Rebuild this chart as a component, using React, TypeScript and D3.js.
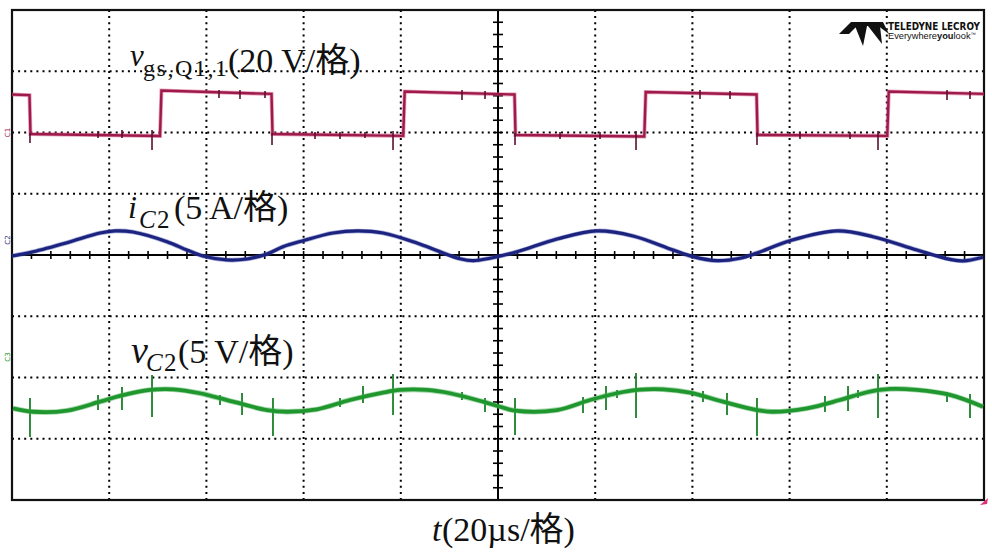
import React from 'react';
import * as d3 from 'd3';

const W = 992;
const H = 556;

// ---- time base: 20 µs / div, 10 divisions ----
const timeDomain: [number, number] = [0, 200];

// ---- channel settings (units per division, zero level in divisions) ----
const vgsPerDiv = 20; // V/div
const vgsOffsetDiv = 2.0;
const icPerDiv = 5; // A/div
const icOffsetDiv = 0.245;
const vcPerDiv = 5; // V/div
const vcOffsetDiv = -1.665;

// ---- vgs,Q1,1 (V) ----
const vgsT = [0, 3.6, 3.8, 30.45, 30.75, 53.4, 53.6, 80.5, 80.8, 103.4, 103.6, 130.1, 130.4, 153.2, 153.4, 180.1, 180.4, 200];
const vgsV = [12.4, 12.2, -0.5, -1.14, 13.7, 12.6, -0.5, -1.1, 13.4, 12.4, -0.8, -1.3, 13.2, 12.4, -0.8, -1.1, 13.4, 12.6];
const vgsGlitchT = [3.7, 17.7, 22.63, 28.81, 42.59, 46.91, 52.06, 53.5, 62.35, 67.49, 72.63, 78.4, 92.59, 97.33, 103.5, 112.76, 120.99, 128.4, 141.56, 147.74, 153.29, 162.14, 172.43, 178.19, 192.39, 197.12];
const vgsGlitchHi = [-0.16, 0.49, 0.82, 0.82, 13.88, 13.88, 13.55, -0.16, 0.16, 0.16, 0.16, 0.49, 13.88, 13.55, -0.16, 0.16, 0.16, 0.49, 13.88, 13.55, -0.16, 0.16, 0.16, 0.49, 13.88, 13.55];
const vgsGlitchLo = [-3.43, -1.8, -1.8, -5.71, 11.26, 10.94, 11.26, -4.08, -2.12, -2.12, -1.8, -5.71, 10.61, 10.94, -4.08, -2.12, -2.12, -5.71, 10.94, 10.94, -4.08, -2.12, -2.12, -5.71, 10.61, 10.94];

// ---- iC2 (A) ----
const icT = [0, 4.32, 11.32, 18.11, 21.19, 24.9, 31.89, 36.01, 39.3, 44.24, 48.35, 52.47, 55.76, 59.88, 66.05, 71.19, 76.34, 83.33, 88.07, 92.18, 94.86, 98.35, 103.91, 112.14, 120.37, 127.78, 136.01, 140.12, 145.06, 149.79, 153.29, 160.08, 169.75, 177.16, 186.21, 193.0, 195.68, 199.79];
const icA = [-1.31, -0.96, -0.22, 0.57, 0.74, 0.65, -0.14, -0.82, -1.31, -1.63, -1.55, -1.14, -0.55, -0.06, 0.57, 0.74, 0.57, -0.25, -0.96, -1.53, -1.69, -1.49, -0.96, 0.08, 0.74, 0.33, -0.82, -1.36, -1.69, -1.49, -1.06, -0.06, 0.74, 0.27, -0.82, -1.58, -1.71, -1.41];

// ---- vC2 (V) ----
const vcT = [0.21, 4.32, 11.32, 18.11, 22.22, 28.4, 33.13, 38.68, 45.47, 52.47, 56.58, 62.76, 69.55, 76.34, 79.84, 85.39, 90.12, 96.91, 100.41, 103.5, 112.14, 118.93, 124.49, 128.6, 133.95, 139.51, 146.3, 153.29, 156.58, 163.58, 170.37, 175.93, 180.66, 186.21, 193.0, 199.79];
const vcV = [-4.19, -4.47, -4.38, -3.65, -3.18, -2.69, -2.64, -2.96, -3.65, -4.33, -4.47, -4.27, -3.51, -2.91, -2.69, -2.69, -2.96, -3.65, -4.06, -4.38, -4.33, -3.51, -2.96, -2.69, -2.64, -2.91, -3.65, -4.33, -4.47, -4.19, -3.51, -2.88, -2.61, -2.69, -3.1, -4.06];
const vcGlitchT = [3.7, 17.7, 22.63, 28.81, 42.8, 47.33, 53.7, 67.49, 72.22, 78.4, 92.59, 97.33, 103.5, 117.49, 122.22, 124.49, 128.4, 142.18, 147.12, 153.29, 167.28, 172.02, 174.07, 178.19, 192.39, 197.12];
const vcGlitchHi = [-3.35, -3.1, -2.45, -1.47, -3.1, -2.94, -3.35, -3.35, -2.37, -1.39, -2.86, -3.35, -3.35, -3.27, -2.37, -2.69, -1.31, -2.78, -2.94, -3.35, -3.18, -2.37, -2.69, -1.39, -2.86, -3.02];
const vcGlitchLo = [-6.53, -4.33, -4.33, -4.9, -3.92, -4.73, -6.45, -4.08, -3.76, -4.73, -3.51, -4.49, -6.37, -4.57, -4.33, -3.35, -4.98, -3.67, -4.73, -6.45, -4.49, -4.41, -3.35, -4.98, -3.67, -4.98];

// ---- labels ----
const vgsLabel = { sym: 'v', sub: 'gs,Q1,1', unit: '(20 V/格)' };
const icLabel = { sym: 'i', sub: 'C', sub2: '2', unit: '(5 A/格)' };
const vcLabel = { sym: 'v', sub: 'C', sub2: '2', unit: '(5 V/格)' };
const timeLabel = { sym: 't', unit: '(20µs/格)' };

const X0 = 12, X1 = 984, Y0 = 10, Y1 = 500;
const serif = '"Liberation Serif", "Noto Sans CJK SC", serif';

export default function App() {
  const x = d3.scaleLinear().domain(timeDomain).range([X0, X1]);
  const y = d3.scaleLinear().domain([-4, 4]).range([Y1, Y0]);

  const mk = (T: number[], V: number[], per: number, off: number, curve: any) =>
    d3.line<number>()
      .x((_, i) => x(T[i]))
      .y((v) => y(off + v / per))
      .curve(curve)(V) || '';

  const vgsPath = mk(vgsT, vgsV, vgsPerDiv, vgsOffsetDiv, d3.curveLinear);
  const icPath = mk(icT, icA, icPerDiv, icOffsetDiv, d3.curveCatmullRom);
  const vcPath = mk(vcT, vcV, vcPerDiv, vcOffsetDiv, d3.curveCatmullRom);

  const xMajor = d3.range(1, 10).map((i) => timeDomain[0] + (i * (timeDomain[1] - timeDomain[0])) / 10);
  const yMajor = d3.range(-3, 4);
  const xMinor = d3.range(1, 50).map((i) => (i * 200) / 50);
  const yMinor = d3.range(-39, 40).map((i) => i / 5).filter((v) => Math.abs(v) < 4);

  const red = '#9e1a4c';
  const blue = '#1c237f';
  const green = '#1f962e';

  return (
    <svg width={W} height={H} style={{ position: 'absolute', left: 0, top: 0, background: '#fff' }}>
      <rect x={0} y={0} width={W} height={H} fill="#fff" />
      {/* dotted grid */}
      {xMajor.filter((t) => t !== 100).map((t) => (
        <line key={'gx' + t} x1={x(t)} x2={x(t)} y1={Y0} y2={Y1} stroke="#000" strokeWidth={2} strokeDasharray="2 4.1" />
      ))}
      {yMajor.filter((v) => v !== 0).map((v) => (
        <line key={'gy' + v} x1={X0} x2={X1} y1={y(v)} y2={y(v)} stroke="#000" strokeWidth={2} strokeDasharray="2 4.1" />
      ))}
      {/* center axes with ticks */}
      <line x1={X0} x2={X1} y1={y(0)} y2={y(0)} stroke="#000" strokeWidth={2} />
      <line x1={x(100)} x2={x(100)} y1={Y0} y2={Y1} stroke="#000" strokeWidth={2} />
      {xMinor.map((t) => (
        <line key={'tx' + t} x1={x(t)} x2={x(t)} y1={y(0) - 4} y2={y(0) + 4} stroke="#000" strokeWidth={1.6} />
      ))}
      {yMinor.map((v) => (
        <line key={'ty' + v} x1={x(100) - 5} x2={x(100) + 5} y1={y(v)} y2={y(v)} stroke="#000" strokeWidth={1.6} />
      ))}
      {/* border */}
      <rect x={X0} y={Y0} width={X1 - X0} height={Y1 - Y0} fill="none" stroke="#111" strokeWidth={2.2} />

      {/* vgs trace */}
      <path d={vgsPath} fill="none" stroke="#d4557f" strokeWidth={4} strokeOpacity={0.55} />
      <path d={vgsPath} fill="none" stroke={red} strokeWidth={2.4} />
      {vgsGlitchT.map((t, i) => (
        <line key={'vg' + i} x1={x(t)} x2={x(t)} y1={y(vgsOffsetDiv + vgsGlitchHi[i] / vgsPerDiv)} y2={y(vgsOffsetDiv + vgsGlitchLo[i] / vgsPerDiv)} stroke="#5a1030" strokeWidth={1.6} />
      ))}

      {/* iC2 trace */}
      <path d={icPath} fill="none" stroke="#4a55b0" strokeWidth={4.6} strokeOpacity={0.5} />
      <path d={icPath} fill="none" stroke={blue} strokeWidth={3.2} />

      {/* vC2 trace */}
      {vcGlitchT.map((t, i) => (
        <line key={'cg' + i} x1={x(t)} x2={x(t)} y1={y(vcOffsetDiv + vcGlitchHi[i] / vcPerDiv)} y2={y(vcOffsetDiv + vcGlitchLo[i] / vcPerDiv)} stroke="#1a7f27" strokeWidth={1.8} />
      ))}
      <path d={vcPath} fill="none" stroke="#4cb457" strokeWidth={5.4} strokeOpacity={0.5} />
      <path d={vcPath} fill="none" stroke={green} strokeWidth={3.8} />

      {/* channel markers */}
      <text x={0} y={0} transform={`translate(8,${y(vgsOffsetDiv)}) rotate(-90)`} fontSize={7} fill={red} textAnchor="middle" dominantBaseline="middle" fontFamily="DejaVu Sans">C1</text>
      <text x={0} y={0} transform={`translate(8,${y(icOffsetDiv)}) rotate(-90)`} fontSize={7} fill={blue} textAnchor="middle" dominantBaseline="middle" fontFamily="DejaVu Sans">C2</text>
      <text x={0} y={0} transform={`translate(8,${y(vcOffsetDiv)}) rotate(-90)`} fontSize={7} fill={green} textAnchor="middle" dominantBaseline="middle" fontFamily="DejaVu Sans">C3</text>
      <path d={`M${X1 - 4},${Y1 + 5} L${X1 + 4},${Y1 - 2} L${X1 + 3},${Y1 + 4} Z`} fill="#e0307a" />

      {/* labels */}
      <g fontFamily={serif} fill="#111">
        <text x={130} y={66} fontSize={31} fontStyle="italic">{vgsLabel.sym}</text>
        <text x={143} y={76} fontSize={24} textLength={84} lengthAdjust="spacing">{vgsLabel.sub}</text>
        <text x={228} y={72} fontSize={34}>{vgsLabel.unit}</text>

        <text x={128} y={218} fontSize={32} fontStyle="italic">{icLabel.sym}</text>
        <text x={139} y={228} fontSize={25} fontStyle="italic">{icLabel.sub}</text>
        <text x={157} y={228} fontSize={25}>{icLabel.sub2}</text>
        <text x={174} y={219} fontSize={34}>{icLabel.unit}</text>

        <text x={131} y={363} fontSize={38} fontStyle="italic">{vcLabel.sym}</text>
        <text x={146} y={371} fontSize={25} fontStyle="italic">{vcLabel.sub}</text>
        <text x={164} y={371} fontSize={25}>{vcLabel.sub2}</text>
        <text x={178} y={363} fontSize={34}>{vcLabel.unit}</text>

        <text x={432} y={541} fontSize={34} fontStyle="italic">{timeLabel.sym}</text>
        <text x={442} y={541} fontSize={34}>{timeLabel.unit}</text>
      </g>

      {/* logo */}
      <g fill="#111">
        <path d="M839,34 L851,22 L861,22 L849,34 Z" />
        <path d="M851,22 L883,22 L883,26 L851,26 Z" />
        <path d="M855,26 L867,26 L863,46 Z" />
        <path d="M868,26 L880,26 L882,44 Z" />
        <path d="M873,22 L883,22 L889,34 Z" />
        <text x={888} y={30} fontSize={10} fontWeight="bold" fontFamily='"DejaVu Sans Condensed", "Liberation Sans Narrow", sans-serif' textLength={92} lengthAdjust="spacingAndGlyphs">TELEDYNE LECROY</text>
        <text x={888} y={39} fontSize={8.5} fontFamily='"Liberation Sans", sans-serif' textLength={88} lengthAdjust="spacingAndGlyphs">
          Everywhere<tspan fontWeight="bold">you</tspan>look<tspan fontSize={5} dy={-3}>™</tspan>
        </text>
      </g>
    </svg>
  );
}
